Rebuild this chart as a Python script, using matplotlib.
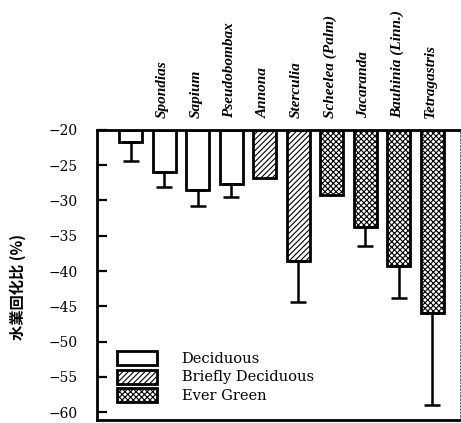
import matplotlib
matplotlib.use("Agg")
import matplotlib.pyplot as plt
from matplotlib.patches import Patch

plt.rcParams['hatch.linewidth'] = 0.8

species = ["", "Spondias", "Sapium", "Pseudobombax", "Annona", "Sterculia",
           "Scheelea (Palm)", "Jacaranda", "Bauhinia (Linn.)", "Tetragastris"]
values = [-21.7, -26.0, -28.5, -27.7, -26.8, -38.6, -29.2, -33.8, -39.3, -46.0]
errors = [2.7, 2.1, 2.3, 1.8, 0.0, 5.8, 0.0, 2.7, 4.5, 13.0]
groups = ["Deciduous"] * 4 + ["Briefly Deciduous"] * 2 + ["Ever Green"] * 4
yticks = [-20, -25, -30, -35, -40, -45, -50, -55, -60]

hatch_map = {"Deciduous": "", "Briefly Deciduous": "//////", "Ever Green": "xxxxxx"}

fig = plt.figure(figsize=(4.61, 4.23), dpi=100)
ax = fig.add_axes([0.2104, 0.0071, 0.7876, 0.686])

x = list(range(len(values)))
for xi, v, e, g in zip(x, values, errors, groups):
    ax.bar(xi, v - (-20), bottom=-20, width=0.68, color="white",
           edgecolor="black", linewidth=2, hatch=hatch_map[g], zorder=2)
    if e > 0:
        ax.errorbar(xi, v, yerr=[[e], [0]], fmt="none", ecolor="black",
                    elinewidth=1.8, capsize=6, capthick=1.8, zorder=3)

ax.set_ylim(-61.1, -20)
ax.set_xlim(-1.01, 9.83)
ax.set_yticks(yticks)
ax.set_yticklabels([str(t).replace("-", "\u2212") for t in yticks],
                   family="DejaVu Serif", fontsize=10)
ax.tick_params(axis="y", direction="in", length=7, width=1.6, pad=14)
ax.set_xticks([])

for side in ["top", "left", "bottom"]:
    ax.spines[side].set_linewidth(2)
ax.spines["right"].set_linewidth(0.6)
ax.spines["right"].set_linestyle((0, (2, 2)))
ax.spines["right"].set_color("#555555")

for xi, name in zip(x, species):
    if name:
        ax.text(xi - 0.05, -18.3, name, rotation=90, ha="center", va="bottom",
                family="Liberation Serif", style="italic", weight="bold",
                fontsize=11, clip_on=False)

ax.set_ylabel("水業回化比 (%)", family=["Noto Sans CJK SC", "DejaVu Sans"],
              weight="bold", fontsize=11)
ax.yaxis.set_label_coords(-0.195, 0.46)

handles = [Patch(facecolor="white", edgecolor="black", linewidth=2, hatch=hatch_map[g], label=g)
           for g in ["Deciduous", "Briefly Deciduous", "Ever Green"]]
leg = ax.legend(handles=handles, loc="lower left", bbox_to_anchor=(0.02, 0.012),
                frameon=False, prop={"family": "DejaVu Serif", "size": 10.5},
                handlelength=2.7, handleheight=1.1, labelspacing=0.27, handletextpad=1.7)

fig.savefig("out.png", dpi=100)
